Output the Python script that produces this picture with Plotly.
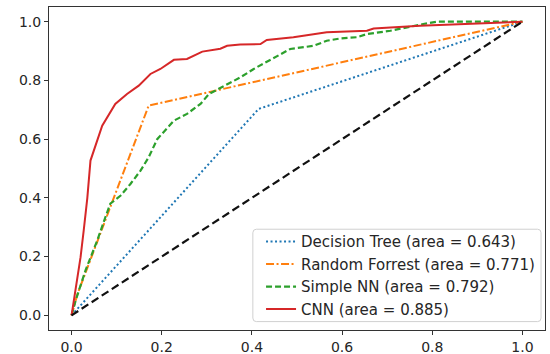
import plotly.graph_objects as go

# Decision Tree ROC
dt_fpr = [0.0, 0.415, 1.0]
dt_tpr = [0.0, 0.703, 1.0]

# Random Forrest ROC
rf_fpr = [0.0, 0.013, 0.171, 1.0]
rf_tpr = [0.0, 0.072, 0.714, 1.0]

# Simple NN ROC
nn_fpr = [0.0, 0.009, 0.031, 0.057, 0.075, 0.086, 0.109, 0.131, 0.153, 0.171, 0.19,
          0.227, 0.256, 0.286, 0.305, 0.34, 0.36, 0.374, 0.404, 0.456, 0.485, 0.537,
          0.566, 0.596, 0.633, 0.655, 0.684, 0.707, 0.78, 0.81, 1.0]
nn_tpr = [0.0, 0.05, 0.153, 0.255, 0.334, 0.38, 0.408, 0.448, 0.493, 0.538, 0.60,
          0.663, 0.686, 0.72, 0.754, 0.782, 0.80, 0.81, 0.839, 0.884, 0.907, 0.918,
          0.935, 0.943, 0.947, 0.958, 0.964, 0.969, 0.992, 1.0, 1.0]

# CNN ROC
cnn_fpr = [0.0, 0.009, 0.02, 0.027, 0.035, 0.042, 0.049, 0.057, 0.068, 0.097, 0.123,
           0.149, 0.175, 0.197, 0.227, 0.256, 0.29, 0.33, 0.345, 0.374, 0.419, 0.433,
           0.492, 0.566, 0.655, 0.67, 0.773, 1.0]
cnn_tpr = [0.0, 0.085, 0.198, 0.289, 0.40, 0.527, 0.561, 0.60, 0.646, 0.72, 0.754,
           0.782, 0.822, 0.839, 0.87, 0.873, 0.898, 0.908, 0.918, 0.922, 0.924, 0.938,
           0.947, 0.964, 0.969, 0.977, 0.986, 1.0]

# Chance diagonal
diag = [0.0, 1.0]

labels = ["Decision Tree (area = 0.643)", "Random Forrest (area = 0.771)",
          "Simple NN (area = 0.792)", "CNN (area = 0.885)"]
colors = ["#1f77b4", "#ff7f0e", "#2ca02c", "#d62728"]

fig = go.Figure()
fig.add_trace(go.Scatter(x=dt_fpr, y=dt_tpr, mode="lines", name=labels[0],
                         line=dict(color=colors[0], width=2, dash="2px,2.5px")))
fig.add_trace(go.Scatter(x=rf_fpr, y=rf_tpr, mode="lines", name=labels[1],
                         line=dict(color=colors[1], width=2, dash="8px,2.5px,2px,2.5px")))
fig.add_trace(go.Scatter(x=nn_fpr, y=nn_tpr, mode="lines", name=labels[2],
                         line=dict(color=colors[2], width=2.2, dash="6px,3px")))
fig.add_trace(go.Scatter(x=cnn_fpr, y=cnn_tpr, mode="lines", name=labels[3],
                         line=dict(color=colors[3], width=2)))
fig.add_trace(go.Scatter(x=diag, y=diag, mode="lines", showlegend=False,
                         line=dict(color="#111111", width=2.2, dash="8px,4px")))

axis_common = dict(showgrid=False, zeroline=False, showline=True, mirror=True,
                   linecolor="#333333", linewidth=1, ticks="outside", ticklen=4,
                   tickwidth=1, tickcolor="#333333", tick0=0, dtick=0.2,
                   tickformat=".1f", range=[-0.05, 1.05], automargin=False,
                   tickfont=dict(family="DejaVu Sans", size=14, color="#262626"))

# rounded legend frame (paper coordinates)
x0, x1, y0, y1 = 0.411, 0.992, 0.026, 0.312
rx, ry = 0.007, 0.011
frame = (f"M {x0+rx},{y0} L {x1-rx},{y0} Q {x1},{y0} {x1},{y0+ry} "
         f"L {x1},{y1-ry} Q {x1},{y1} {x1-rx},{y1} L {x0+rx},{y1} "
         f"Q {x0},{y1} {x0},{y1-ry} L {x0},{y0+ry} Q {x0},{y0} {x0+rx},{y0} Z")

fig.update_layout(
    width=550, height=354,
    margin=dict(l=49, r=5, t=7, b=24, autoexpand=False),
    plot_bgcolor="white", paper_bgcolor="white",
    xaxis=axis_common, yaxis=axis_common,
    font=dict(family="DejaVu Sans", size=14, color="#262626"),
    shapes=[dict(type="path", path=frame, xref="paper", yref="paper",
                 line=dict(color="#d0d0d0", width=1),
                 fillcolor="rgba(255,255,255,0.8)", layer="above")],
    legend=dict(x=0.99, y=0.0145, xanchor="right", yanchor="bottom",
                bgcolor="rgba(0,0,0,0)", borderwidth=0,
                font=dict(family="DejaVu Sans", size=15, color="#262626"),
                itemwidth=30),
)

fig.write_html("out.html", config={"displayModeBar": False},
               post_script="document.body.style.margin='0';document.body.style.overflow='hidden';")
